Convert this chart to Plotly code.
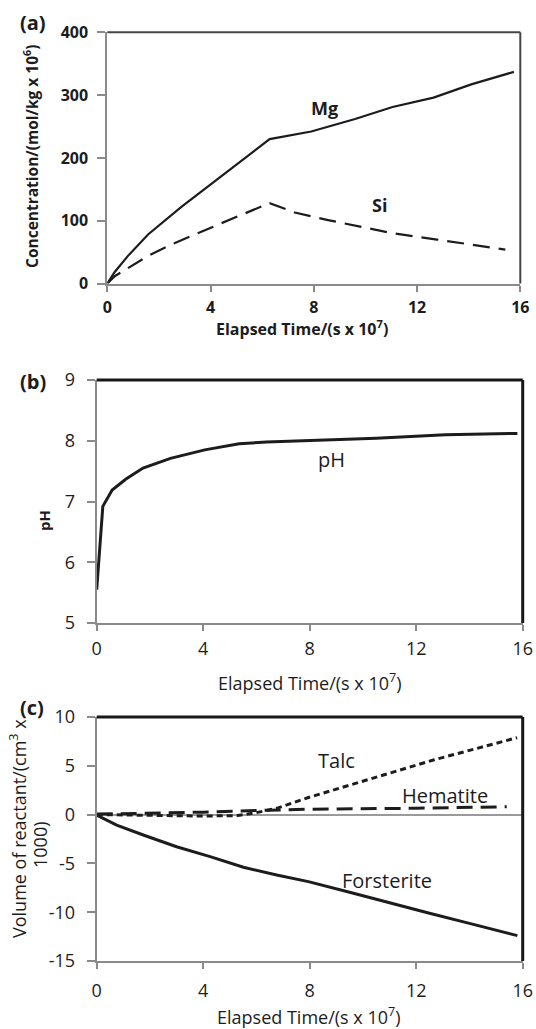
import plotly.graph_objects as go

# ---------------- data ----------------
# (a) concentrations
t_mg = [0, 0.28, 0.8, 1.58, 2.87, 4.03, 6.29, 7.9, 9.6, 11.05, 12.64, 14.1, 15.75]
mg = [0, 18, 44, 78, 122, 159, 230, 242, 262, 281, 296, 317, 337]
t_si = [0, 0.3, 0.74, 1.58, 2.48, 3.38, 4.42, 6.29, 7.26, 8.55, 9.6, 11.05, 12.77, 15.42]
si = [0, 12, 23, 44, 62, 78, 96, 128, 113, 101, 92, 80, 70, 54]

# (b) pH
t_ph = [0, 0.23, 0.58, 1.1, 1.74, 2.77, 4.06, 5.35, 6.38, 7.9, 10.5, 13.1, 15.8]
ph = [5.55, 6.92, 7.19, 7.37, 7.55, 7.71, 7.85, 7.95, 7.98, 8.0, 8.04, 8.10, 8.12]

# (c) volumes of reactants
t_fo = [0, 0.75, 1.75, 3.0, 4.26, 5.51, 6.76, 7.95, 9.5, 11.0, 12.5, 14.0, 15.8]
fo = [-0.05, -1.07, -2.09, -3.29, -4.31, -5.4, -6.19, -6.87, -7.95, -9.05, -10.1, -11.15, -12.4]
t_talc = [0, 2, 4, 5.3, 6.0, 6.76, 7.95, 10.14, 12.64, 15.79]
talc = [0, -0.05, -0.15, -0.1, 0.2, 0.64, 1.75, 3.54, 5.59, 7.88]
t_hem = [0, 2, 4, 6.4, 8, 12, 15.4]
hem = [0.05, 0.15, 0.25, 0.45, 0.55, 0.65, 0.8]

x_ticks = [0, 4, 8, 12, 16]
ya_ticks = [0, 100, 200, 300, 400]
yb_ticks = [5, 6, 7, 8, 9]
yc_ticks = [-15, -10, -5, 0, 5, 10]
yc_ticklabels = ["-15", "-10", "-5", "0", "5", "10"]

# ---------------- layout helpers ----------------
W, H = 536, 1029
FONT = "Open Sans"
INK = "#1c1c1c"
GREY = "#8a8a8a"


def fx(x):
    return x / W


def fy(y):
    return 1 - y / H


fig = go.Figure()

fig.add_trace(go.Scatter(x=t_mg, y=mg, mode="lines", line=dict(color=INK, width=2.2),
                         xaxis="x", yaxis="y"))
fig.add_trace(go.Scatter(x=t_si, y=si, mode="lines", line=dict(color=INK, width=2.2, dash="17px,9px"),
                         xaxis="x", yaxis="y"))
fig.add_trace(go.Scatter(x=t_ph, y=ph, mode="lines", line=dict(color=INK, width=3),
                         xaxis="x2", yaxis="y2"))
fig.add_trace(go.Scatter(x=t_hem, y=hem, mode="lines", line=dict(color=INK, width=3, dash="16px,8px"),
                         xaxis="x3", yaxis="y3"))
fig.add_trace(go.Scatter(x=t_talc, y=talc, mode="lines", line=dict(color=INK, width=3, dash="6px,4px"),
                         xaxis="x3", yaxis="y3"))
fig.add_trace(go.Scatter(x=t_fo, y=fo, mode="lines", line=dict(color=INK, width=3),
                         xaxis="x3", yaxis="y3"))


def xax(dom, anchor, bold, size, standoff):
    return dict(domain=dom, anchor=anchor, range=[0, 16], tickvals=x_ticks,
                showgrid=False, zeroline=False, showline=True, linecolor=GREY, linewidth=2,
                ticks="outside", ticklen=6, tickwidth=1.5, tickcolor=GREY,
                ticklabelstandoff=standoff, automargin=False,
                tickfont=dict(family=FONT, size=size, color=INK,
                              weight="bold" if bold else "normal"),
                fixedrange=True)


def yax(dom, anchor, rng, tv, bold, size, standoff, zl=False, tt=None):
    d = dict(domain=dom, anchor=anchor, range=rng, tickvals=tv,
             showgrid=False, zeroline=zl, zerolinecolor="#9a9a9a", zerolinewidth=1.5,
             showline=True, linecolor=GREY, linewidth=2,
             ticks="outside", ticklen=8, tickwidth=1.5, tickcolor=GREY,
             ticklabelstandoff=standoff, automargin=False,
             tickfont=dict(family=FONT, size=size, color=INK,
                           weight="bold" if bold else "normal"),
             fixedrange=True)
    if tt is not None:
        d["ticktext"] = tt
    return d


xa_dom = [fx(107.3), fx(520.3)]
xb_dom = [fx(96.7), fx(522.7)]
fig.update_layout(
    width=W, height=H, autosize=False,
    margin=dict(l=0, r=0, t=0, b=0, pad=0, autoexpand=False),
    paper_bgcolor="white", plot_bgcolor="white", showlegend=False,
    xaxis=xax(xa_dom, "y", True, 16, 2),
    yaxis=yax([fy(283.5), fy(32.3)], "x", [0, 400], ya_ticks, True, 16, 6),
    xaxis2=xax(xb_dom, "y2", False, 18, 2),
    yaxis2=yax([fy(623), fy(380)], "x2", [5, 9], yb_ticks, False, 18, 8),
    xaxis3=xax(xb_dom, "y3", False, 18, 6),
    yaxis3=yax([fy(961), fy(717)], "x3", [-15, 10], yc_ticks, False, 18, 8, zl=True, tt=yc_ticklabels),
)

# top / right frame lines (dark)
for xr, yr, col, wd in [("x", "y", "#444444", 2), ("x2", "y2", "#161616", 3), ("x3", "y3", "#161616", 3)]:
    fig.add_shape(type="line", xref=xr + " domain", yref=yr + " domain", x0=0, x1=1, y0=1, y1=1,
                  line=dict(color=col, width=wd), layer="above")
    fig.add_shape(type="line", xref=xr + " domain", yref=yr + " domain", x0=1, x1=1, y0=0, y1=1,
                  line=dict(color=col, width=wd), layer="above")

ann = []


def ptxt(text, x, y, size, bold=False, angle=0, yanchor="middle"):
    ann.append(dict(text=text, x=fx(x), y=fy(y), xref="paper", yref="paper", showarrow=False,
                    xanchor="center", yanchor=yanchor, textangle=angle,
                    font=dict(family=FONT, size=size, color=INK, weight="bold" if bold else "normal")))


def dtxt(text, x, y, xr, yr, size, bold=False):
    ann.append(dict(text=text, x=x, y=y, xref=xr, yref=yr, showarrow=False,
                    xanchor="center", yanchor="middle",
                    font=dict(family=FONT, size=size, color=INK, weight="bold" if bold else "normal")))


# panel letters
ptxt("(a)", 33, 23, 20, True)
ptxt("(b)", 33, 381, 20, True)
ptxt("(c)", 32, 707, 20, True)

# axis titles
ptxt("Concentration/(mol/kg x 10<sup>6</sup>)", 31, 156, 15.5, True, -90)
ptxt("Elapsed Time/(s x 10<sup>7</sup>)", 302, 328, 16, True)
ptxt("pH", 44, 521, 15, True, -90)
ptxt("Elapsed Time/(s x 10<sup>7</sup>)", 310, 682, 18)
ptxt("Volume of reactant/(cm<sup>3</sup> x", 18, 829, 18, False, -90)
ptxt("1000)", 40, 845, 18, False, -90)
ptxt("Elapsed Time/(s x 10<sup>7</sup>)", 309, 1016, 18)

# series labels
dtxt("Mg", 8.4, 280, "x", "y", 18, True)
dtxt("Si", 10.56, 125, "x", "y", 18, True)
dtxt("pH", 8.8, 7.69, "x2", "y2", 20)
dtxt("Talc", 9.02, 5.56, "x3", "y3", 20)
dtxt("Hematite", 13.08, 1.98, "x3", "y3", 20)
dtxt("Forsterite", 10.89, -6.72, "x3", "y3", 20)

fig.update_layout(annotations=ann)

fig.write_html(
    "out.html",
    config={"displayModeBar": False},
    post_script="document.documentElement.style.margin='0';document.body.style.margin='0';"
                "document.body.style.overflow='hidden';",
)
